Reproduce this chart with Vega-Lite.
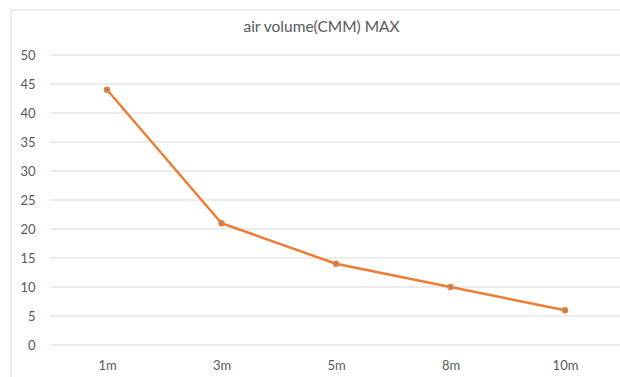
{
  "$schema": "https://vega.github.io/schema/vega-lite/v6.json",
  "width": 609,
  "height": 367,
  "autosize": {"type": "none"},
  "padding": {"left": 11, "top": 10, "right": 0, "bottom": 0},
  "background": "white",
  "title": {
    "text": "air volume(CMM) MAX",
    "font": "Lato",
    "fontSize": 15.5,
    "fontWeight": "normal",
    "color": "#595959",
    "anchor": "middle",
    "dx": 6,
    "offset": -26
  },
  "datasets": {
    "series": [
      {"distance": "1m", "idx": 0, "cmm": 44},
      {"distance": "3m", "idx": 1, "cmm": 21},
      {"distance": "5m", "idx": 2, "cmm": 14},
      {"distance": "8m", "idx": 3, "cmm": 10},
      {"distance": "10m", "idx": 4, "cmm": 6}
    ],
    "gridlines": [
      {"level": 0}, {"level": 5}, {"level": 10}, {"level": 15}, {"level": 20},
      {"level": 25}, {"level": 30}, {"level": 35}, {"level": 40}, {"level": 45}, {"level": 50}
    ],
    "frame": [{"edge": "frame"}]
  },
  "resolve": {"axis": {"x": "independent", "y": "independent"}},
  "layer": [
    {
      "data": {"name": "gridlines"},
      "mark": {"type": "rule", "color": "#D9D9D9", "strokeWidth": 1},
      "encoding": {
        "y": {
          "field": "level",
          "type": "quantitative",
          "scale": {"domain": [-5.517, 57.759], "nice": false, "zero": false},
          "axis": {
            "title": null,
            "values": [0, 5, 10, 15, 20, 25, 30, 35, 40, 45, 50],
            "domain": false,
            "ticks": false,
            "grid": false,
            "offset": -39,
            "labelPadding": 15,
            "labelFont": "Lato",
            "labelFontSize": 13,
            "labelColor": "#595959",
            "labelOverlap": false,
            "labelFlush": false
          }
        },
        "x": {
          "datum": -0.5,
          "type": "quantitative",
          "scale": {"domain": [-0.8384, 4.4803], "nice": false, "zero": false},
          "axis": null
        },
        "x2": {"datum": 4.4803}
      }
    },
    {
      "data": {"name": "frame"},
      "mark": {"type": "rule", "color": "#D9D9D9", "strokeWidth": 1},
      "encoding": {
        "x": {"datum": -0.8384, "type": "quantitative", "axis": null},
        "y": {"datum": -5.517, "type": "quantitative", "axis": null},
        "y2": {"datum": 57.759}
      }
    },
    {
      "data": {"name": "frame"},
      "mark": {"type": "rule", "color": "#D9D9D9", "strokeWidth": 1},
      "encoding": {
        "y": {"datum": 57.759, "type": "quantitative", "axis": null},
        "x": {"datum": -0.8384, "type": "quantitative", "axis": null},
        "x2": {"datum": 4.4803}
      }
    },
    {
      "data": {"name": "series"},
      "mark": {"type": "line", "color": "#ED7D31", "strokeWidth": 2.5},
      "encoding": {
        "x": {
          "field": "idx",
          "type": "quantitative",
          "axis": {
            "title": null,
            "values": [0, 1, 2, 3, 4],
            "labelExpr": "['1m','3m','5m','8m','10m'][datum.value]",
            "labelAngle": 0,
            "domain": false,
            "ticks": false,
            "grid": false,
            "offset": -32,
            "labelPadding": 14,
            "labelFont": "Lato",
            "labelFontSize": 13,
            "labelColor": "#595959",
            "labelOverlap": false,
            "labelFlush": false
          }
        },
        "y": {"field": "cmm", "type": "quantitative", "axis": null}
      }
    },
    {
      "data": {"name": "series"},
      "mark": {"type": "point", "filled": true, "fill": "#5B8FC8", "stroke": "#ED7D31", "strokeWidth": 2, "size": 20, "opacity": 1},
      "encoding": {
        "x": {"field": "idx", "type": "quantitative", "axis": null},
        "y": {"field": "cmm", "type": "quantitative", "axis": null}
      }
    }
  ],
  "config": {"view": {"stroke": null}}
}
